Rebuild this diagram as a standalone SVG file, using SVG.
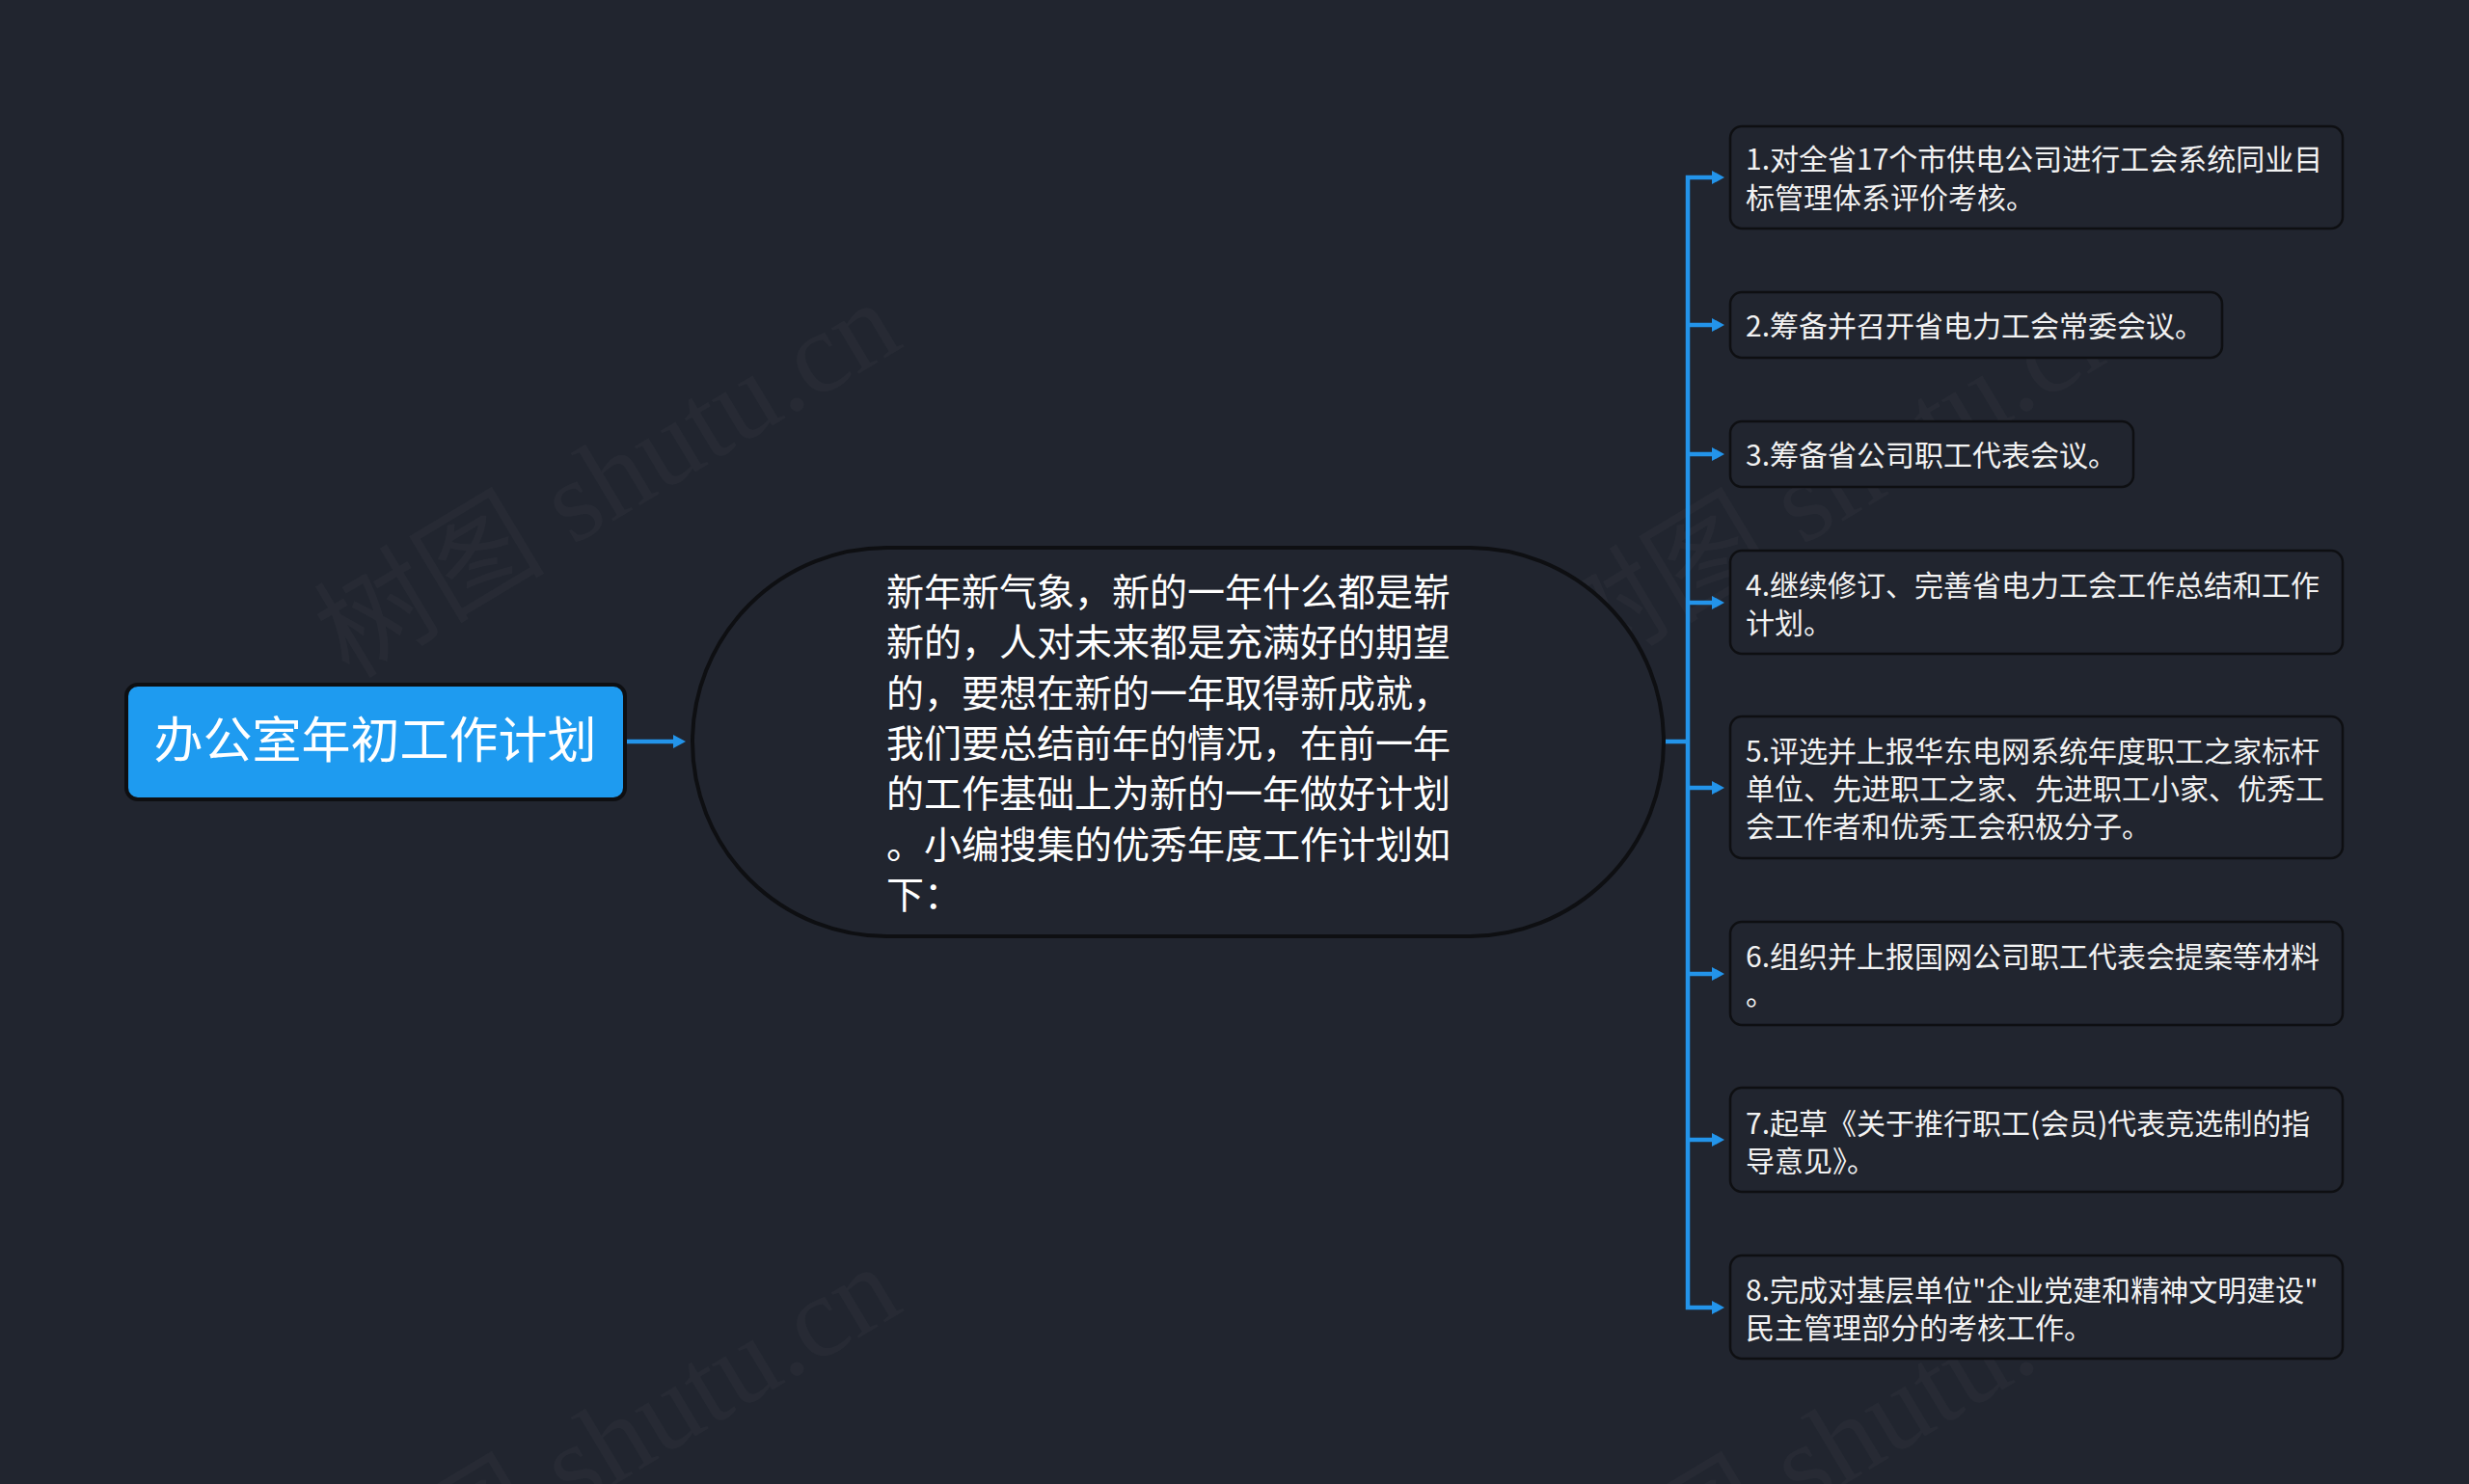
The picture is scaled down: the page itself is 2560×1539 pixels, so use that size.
<svg xmlns="http://www.w3.org/2000/svg" width="2560" height="1539" viewBox="0 0 2560 1539">
<defs>
<style>
.bg{fill:#21252f}
.wm{font-family:"Liberation Serif","Noto Sans CJK SC",serif;font-size:120px;fill:#ffffff;fill-opacity:0.028}
.root{fill:#1e9bf0;stroke:#0e0f12;stroke-width:4}
.rootText{font-family:"Noto Sans CJK SC","Noto Sans",sans-serif;font-size:51px;fill:#ffffff;text-anchor:middle}
.center{fill:#21252f;stroke:#0e0f12;stroke-width:4}
.centerText{font-family:"Noto Sans CJK SC","Noto Sans",sans-serif;font-size:39px;fill:#ffffff}
.leaf{fill:#21252f;stroke:#0e0f12;stroke-width:2.5}
.leafText{font-family:"Noto Sans CJK SC","Noto Sans",sans-serif;font-size:30px;fill:#f2f2f2}
.conn{fill:none;stroke:#2394ea;stroke-width:4.5}
</style>
<marker id="ah" markerUnits="userSpaceOnUse" markerWidth="14" markerHeight="16" refX="0" refY="8" orient="auto" viewBox="0 0 14 16">
<path d="M0,1 L13,8 L0,15 z" fill="#2394ea"/>
</marker>
</defs>
<rect class="bg" x="0" y="0" width="2560" height="1539"/>
<g id="watermarks">
<text class="wm" transform="translate(362,705) rotate(-31)">树图 shutu.cn</text>
<text class="wm" transform="translate(1637,705) rotate(-31)">树图 shutu.cn</text>
<text class="wm" transform="translate(362,1705) rotate(-31)">树图 shutu.cn</text>
<text class="wm" transform="translate(1637,1705) rotate(-31)">树图 shutu.cn</text>
</g>
<g id="connectors">
<path class="conn" d="M650,769 H698" marker-end="url(#ah)"/>
<path class="conn" d="M1724,769 H1750"/>
<path class="conn" d="M1750,769 V184 H1775" marker-end="url(#ah)"/>
<path class="conn" d="M1750,337 H1775" marker-end="url(#ah)"/>
<path class="conn" d="M1750,471 H1775" marker-end="url(#ah)"/>
<path class="conn" d="M1750,625 H1775" marker-end="url(#ah)"/>
<path class="conn" d="M1750,817 H1775" marker-end="url(#ah)"/>
<path class="conn" d="M1750,1010 H1775" marker-end="url(#ah)"/>
<path class="conn" d="M1750,1182 H1775" marker-end="url(#ah)"/>
<path class="conn" d="M1750,769 V1356 H1775" marker-end="url(#ah)"/>
</g>
<g id="root">
<rect class="root" x="131" y="710" width="517" height="119" rx="12"/>
<text class="rootText" x="389" y="786">办公室年初工作计划</text>
</g>
<g id="center">
<rect class="center" x="718" y="568" width="1007" height="403" rx="201.5"/>
<text class="centerText">
<tspan x="919" y="628">新年新气象，新的一年什么都是崭</tspan>
<tspan x="919" y="680">新的，人对未来都是充满好的期望</tspan>
<tspan x="919" y="733">的，要想在新的一年取得新成就，</tspan>
<tspan x="919" y="785">我们要总结前年的情况，在前一年</tspan>
<tspan x="919" y="837">的工作基础上为新的一年做好计划</tspan>
<tspan x="919" y="890">。小编搜集的优秀年度工作计划如</tspan>
<tspan x="919" y="942">下：</tspan>
</text>
</g>
<g id="item1">
<rect class="leaf" x="1794" y="131" width="635" height="106" rx="12"/>
<text class="leafText"><tspan x="1810" y="176">1.对全省17个市供电公司进行工会系统同业目</tspan><tspan x="1810" y="216">标管理体系评价考核。</tspan></text>
</g>
<g id="item2">
<rect class="leaf" x="1794" y="303" width="510" height="68" rx="12"/>
<text class="leafText"><tspan x="1810" y="349">2.筹备并召开省电力工会常委会议。</tspan></text>
</g>
<g id="item3">
<rect class="leaf" x="1794" y="437" width="418" height="68" rx="12"/>
<text class="leafText"><tspan x="1810" y="483">3.筹备省公司职工代表会议。</tspan></text>
</g>
<g id="item4">
<rect class="leaf" x="1794" y="571" width="635" height="107" rx="12"/>
<text class="leafText"><tspan x="1810" y="618">4.继续修订、完善省电力工会工作总结和工作</tspan><tspan x="1810" y="657">计划。</tspan></text>
</g>
<g id="item5">
<rect class="leaf" x="1794" y="743" width="635" height="147" rx="12"/>
<text class="leafText"><tspan x="1810" y="790">5.评选并上报华东电网系统年度职工之家标杆</tspan><tspan x="1810" y="829">单位、先进职工之家、先进职工小家、优秀工</tspan><tspan x="1810" y="868">会工作者和优秀工会积极分子。</tspan></text>
</g>
<g id="item6">
<rect class="leaf" x="1794" y="956" width="635" height="107" rx="12"/>
<text class="leafText"><tspan x="1810" y="1003">6.组织并上报国网公司职工代表会提案等材料</tspan><tspan x="1810" y="1042">。</tspan></text>
</g>
<g id="item7">
<rect class="leaf" x="1794" y="1128" width="635" height="108" rx="12"/>
<text class="leafText"><tspan x="1810" y="1176">7.起草《关于推行职工(会员)代表竞选制的指</tspan><tspan x="1810" y="1215">导意见》。</tspan></text>
</g>
<g id="item8">
<rect class="leaf" x="1794" y="1302" width="635" height="107" rx="12"/>
<text class="leafText"><tspan x="1810" y="1349">8.完成对基层单位"企业党建和精神文明建设"</tspan><tspan x="1810" y="1388">民主管理部分的考核工作。</tspan></text>
</g>
</svg>
